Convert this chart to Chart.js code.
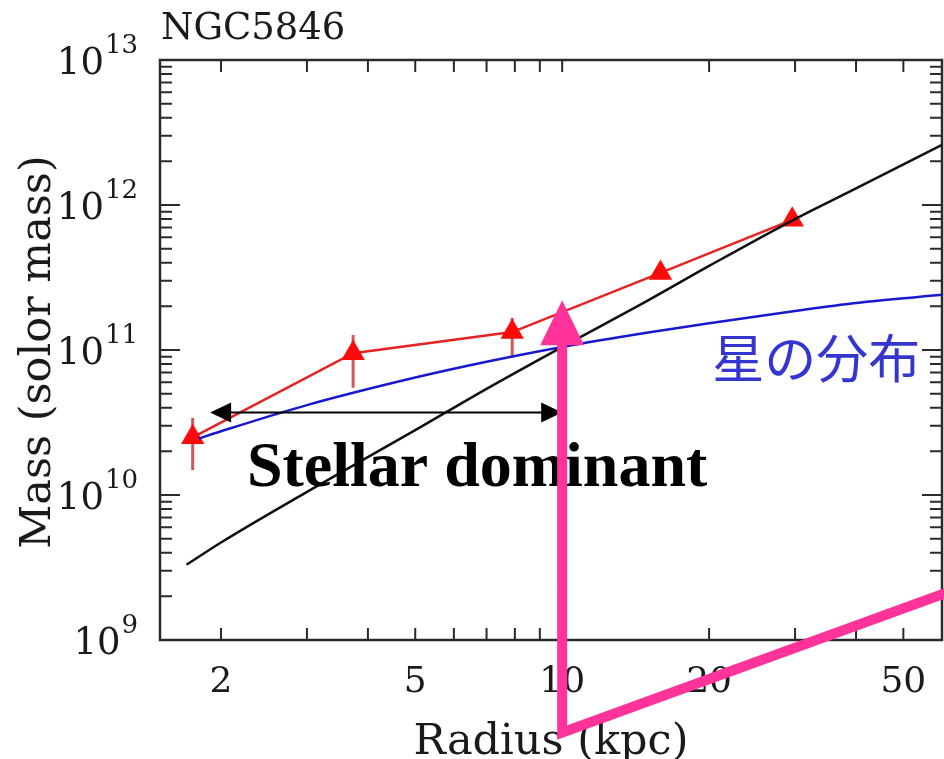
<!DOCTYPE html>
<html>
<head>
<meta charset="utf-8">
<script src="https://cdn.jsdelivr.net/npm/chart.js@4/dist/chart.umd.min.js"></script>
<style>
html, body { margin: 0; padding: 0; background: #fff; }
</style>
</head>
<body>
<canvas id="grafico" width="944" height="759"></canvas>
<script>
// radius in kpc, mass in solar masses
const totalRadius = [1.7, 2, 3, 5, 7, 10, 15, 20, 30, 40, 60];
const totalMass = [3.3e9, 4.7e9, 1.05e10, 2.8e10, 5.4e10, 1.05e11, 2.2e11, 3.8e11, 8.0e11, 1.3e12, 2.6e12];
const starRadius = [1.8, 2, 3, 5, 7, 10, 15, 20, 30, 40, 60];
const starMass = [2.45e10, 2.75e10, 4.17e10, 6.46e10, 8.3e10, 1.05e11, 1.32e11, 1.53e11, 1.86e11, 2.11e11, 2.4e11];
const obsRadius = [1.75, 3.73, 7.9, 15.9, 29.6];
const obsMass = [2.5e10, 9.5e10, 1.33e11, 3.4e11, 7.9e11];
const obsUpper = [3.4e10, 1.27e11, 1.66e11, 3.6e11, 8.2e11];
const obsLower = [1.49e10, 5.5e10, 8.9e10, 3.2e11, 7.6e11];
const xTickLabels = [2, 5, 10, 20, 50];
const yTickPowers = [9, 10, 11, 12, 13];

function toPoints(xs, ys) {
    let pts = [];
    for (let i = 0; i < xs.length; i++) {
        pts[i] = {x: xs[i], y: ys[i]};
    }
    return pts;
}

const SERIF = '"DejaVu Serif", serif';

const axisFrame = {
    id: 'axisFrame',
    beforeDatasetsDraw(chart) {
        const ctx = chart.ctx;
        const a = chart.chartArea;
        const x = chart.scales.x;
        const y = chart.scales.y;
        ctx.save();
        ctx.strokeStyle = '#2a2a2a';
        ctx.lineWidth = 2.5;
        ctx.strokeRect(a.left, a.top, a.right - a.left, a.bottom - a.top);

        ctx.lineWidth = 2;
        ctx.beginPath();
        for (let d = 1; d <= 10; d *= 10) {
            for (let k = 1; k <= 9; k++) {
                const v = k * d;
                if (v < x.min || v > x.max) continue;
                const px = x.getPixelForValue(v);
                ctx.moveTo(px, a.bottom); ctx.lineTo(px, a.bottom - 12);
                ctx.moveTo(px, a.top); ctx.lineTo(px, a.top + 12);
            }
        }
        for (let e = 9; e <= 12; e++) {
            for (let k = 1; k <= 10; k++) {
                const v = k * Math.pow(10, e);
                const py = y.getPixelForValue(v);
                const len = (k === 1 || k === 10) ? 20 : 12;
                ctx.moveTo(a.left, py); ctx.lineTo(a.left + len, py);
                ctx.moveTo(a.right, py); ctx.lineTo(a.right - len, py);
            }
        }
        ctx.stroke();

        // tick labels
        ctx.fillStyle = '#1a1a1a';
        ctx.font = '36px ' + SERIF;
        ctx.textAlign = 'center';
        ctx.textBaseline = 'alphabetic';
        for (const t of xTickLabels) {
            ctx.fillText(String(t), x.getPixelForValue(t), 692);
        }
        for (const p of yTickPowers) {
            const py = y.getPixelForValue(Math.pow(10, p));
            const right = 138;
            ctx.font = '26px ' + SERIF;
            ctx.textAlign = 'right';
            const supW = ctx.measureText(String(p)).width;
            ctx.fillText(String(p), right, py - 7);
            ctx.font = '37px ' + SERIF;
            ctx.fillText('10', right - supW - 1, py + 14);
        }

        // titles
        ctx.textAlign = 'left';
        ctx.font = '37px ' + SERIF;
        ctx.fillText('NGC5846', 161, 39);
        ctx.textAlign = 'center';
        ctx.font = '43px ' + SERIF;
        ctx.fillText('Radius (kpc)', 551, 754);
        ctx.translate(50, 352);
        ctx.rotate(-Math.PI / 2);
        ctx.fillText('Mass (solor mass)', 0, 0);
        ctx.restore();

        // error bars on the observed points
        ctx.save();
        ctx.strokeStyle = 'rgba(205,55,55,0.85)';
        ctx.lineWidth = 3;
        ctx.beginPath();
        for (let i = 0; i < obsRadius.length; i++) {
            const px = x.getPixelForValue(obsRadius[i]);
            ctx.moveTo(px, y.getPixelForValue(obsUpper[i]));
            ctx.lineTo(px, y.getPixelForValue(obsLower[i]));
        }
        ctx.stroke();
        ctx.restore();
    }
};

function arrowHead(ctx, tipX, tipY, dirX, dirY, len, half) {
    ctx.beginPath();
    ctx.moveTo(tipX, tipY);
    ctx.lineTo(tipX - dirX * len - dirY * half, tipY - dirY * len + dirX * half);
    ctx.lineTo(tipX - dirX * len + dirY * half, tipY - dirY * len - dirX * half);
    ctx.closePath();
    ctx.fill();
}

const notes = {
    id: 'notes',
    afterDatasetsDraw(chart) {
        const ctx = chart.ctx;
        const x = chart.scales.x;
        const y = chart.scales.y;
        ctx.save();

        // stellar dominant range arrow
        const ay = y.getPixelForValue(3.7e10);
        const ax1 = x.getPixelForValue(1.9);
        const ax2 = x.getPixelForValue(10);
        ctx.strokeStyle = '#000';
        ctx.fillStyle = '#000';
        ctx.lineWidth = 2;
        ctx.beginPath();
        ctx.moveTo(ax1 + 10, ay);
        ctx.lineTo(ax2 - 10, ay);
        ctx.stroke();
        arrowHead(ctx, ax1, ay, -1, 0, 21, 10);
        arrowHead(ctx, ax2, ay, 1, 0, 21, 10);

        ctx.font = 'bold 64px "Liberation Serif", serif';
        ctx.textAlign = 'left';
        ctx.textBaseline = 'alphabetic';
        ctx.fillText('Stellar dominant', x.getPixelForValue(2.26), y.getPixelForValue(1.15e10));

        ctx.fillStyle = '#3535cf';
        ctx.font = '52px "Noto Sans CJK JP", sans-serif';
        ctx.fillText('星の分布', x.getPixelForValue(20.3), y.getPixelForValue(6.4e10));

        // pink pointer
        const px = x.getPixelForValue(10);
        ctx.strokeStyle = '#ff3399';
        ctx.fillStyle = '#ff3399';
        ctx.lineWidth = 10;
        ctx.lineJoin = 'miter';
        ctx.beginPath();
        ctx.moveTo(x.getPixelForValue(62), y.getPixelForValue(2.15e9));
        ctx.lineTo(px, y.getPixelForValue(2.3e8));
        ctx.lineTo(px, y.getPixelForValue(1.15e11));
        ctx.stroke();
        const tip = y.getPixelForValue(2.2e11);
        const base = y.getPixelForValue(1.08e11);
        arrowHead(ctx, px, tip, 0, -1, Math.abs(base - tip), 22);
        ctx.restore();
    }
};

const chart = new Chart(document.getElementById("grafico"), {
    type: 'line',
    data: {
        datasets: [
            {
                label: 'total',
                data: toPoints(totalRadius, totalMass),
                borderColor: '#111',
                borderWidth: 2.5,
                pointRadius: 0,
                cubicInterpolationMode: 'monotone'
            },
            {
                label: 'stars',
                data: toPoints(starRadius, starMass),
                borderColor: '#1818d0',
                borderWidth: 2.5,
                pointRadius: 0,
                cubicInterpolationMode: 'monotone'
            },
            {
                label: 'observed',
                data: toPoints(obsRadius, obsMass),
                borderColor: '#e62222',
                borderWidth: 2.5,
                pointStyle: 'triangle',
                pointRadius: 13.5,
                pointBackgroundColor: '#ff0a0a',
                pointBorderColor: '#ff0a0a',
                pointBorderWidth: 0
            }
        ]
    },
    options: {
        responsive: false,
        animation: false,
        devicePixelRatio: 1,
        layout: { autoPadding: false, padding: { left: 160, right: 2, top: 60, bottom: 119 } },
        plugins: { legend: { display: false }, tooltip: { enabled: false } },
        scales: {
            x: { type: 'logarithmic', min: 1.5, max: 60, display: false },
            y: { type: 'logarithmic', min: 1e9, max: 1e13, display: false }
        }
    },
    plugins: [axisFrame, notes]
});
</script>
</body>
</html>
